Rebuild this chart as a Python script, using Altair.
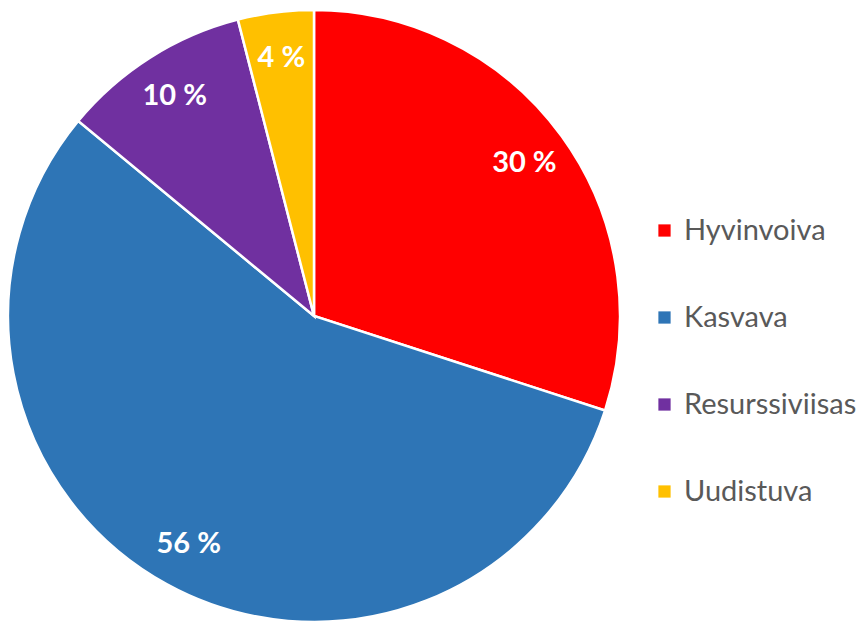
import altair as alt
import pandas as pd

categories = ["Hyvinvoiva", "Kasvava", "Resurssiviisas", "Uudistuva"]
values = [30, 56, 10, 4]
labels = ["30 %", "56 %", "10 %", "4 %"]
colors = ["#FF0000", "#2E75B6", "#7030A0", "#FFC000"]

df = pd.DataFrame({
    "category": categories,
    "value": values,
    "label": labels,
    "idx": list(range(len(categories))),
})

cx, cy, R = 314, 316, 306

base = alt.Chart(df).encode(
    theta=alt.Theta("value:Q", stack=True),
    order=alt.Order("idx:Q", sort="ascending"),
    x=alt.value(cx),
    y=alt.value(cy),
)

arcs = base.mark_arc(outerRadius=R, stroke="white", strokeWidth=2.5).encode(
    color=alt.Color(
        "category:N",
        scale=alt.Scale(domain=categories, range=colors),
        sort=categories,
        legend=alt.Legend(
            title=None,
            orient="none",
            legendX=650,
            legendY=216,
            symbolType="square",
            symbolSize=150,
            symbolStrokeWidth=0,
            labelFont="Lato",
            labelFontSize=29,
            labelColor="#595959",
            labelOffset=5,
            rowPadding=57,
            labelLimit=300,
        ),
    )
)

text = base.mark_text(
    radius=260,
    font="Lato",
    fontSize=29,
    fontWeight="bold",
    color="white",
).encode(text="label:N")

chart = alt.layer(arcs, text).properties(
    width=867,
    height=621,
    autosize=alt.AutoSizeParams(type="none"),
    padding=0,
).configure_view(stroke=None)

chart.save("out.html", embed_options={"renderer": "svg", "actions": False})
